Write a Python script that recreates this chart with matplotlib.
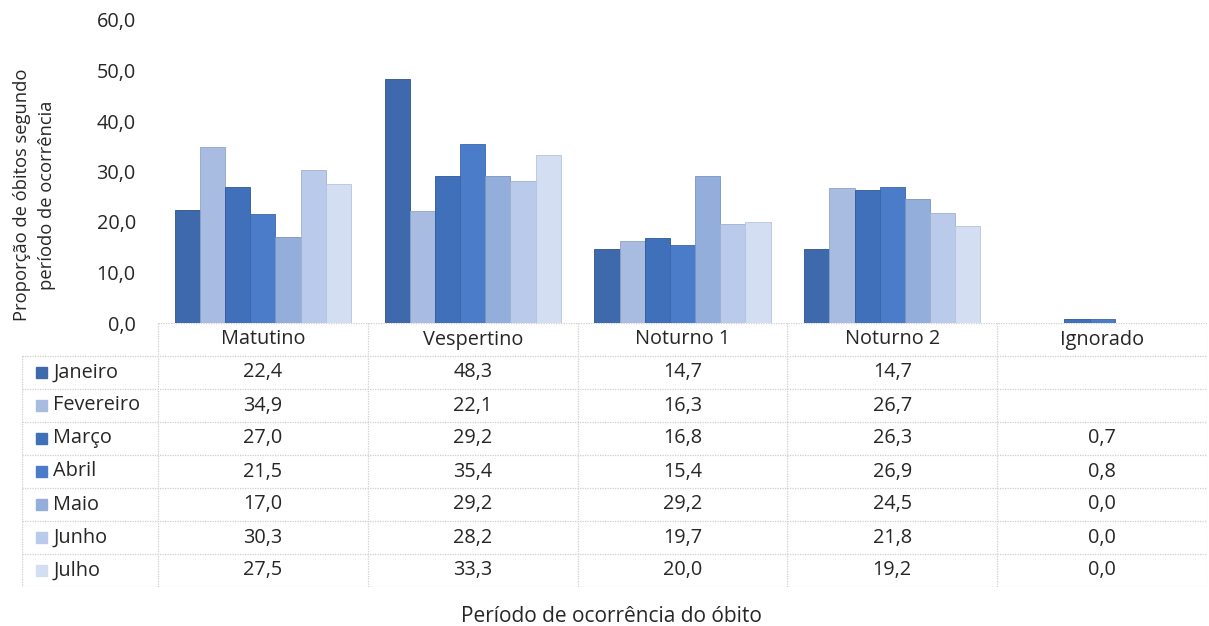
import numpy as np
import matplotlib
matplotlib.use("Agg")
import matplotlib.pyplot as plt

plt.rcParams['font.family'] = ['Open Sans', 'DejaVu Sans']

periods = ["Matutino", "Vespertino", "Noturno 1", "Noturno 2", "Ignorado"]
months = ["Janeiro", "Fevereiro", "Março", "Abril", "Maio", "Junho", "Julho"]

janeiro = [22.4, 48.3, 14.7, 14.7, np.nan]
fevereiro = [34.9, 22.1, 16.3, 26.7, np.nan]
marco = [27.0, 29.2, 16.8, 26.3, 0.7]
abril = [21.5, 35.4, 15.4, 26.9, 0.8]
maio = [17.0, 29.2, 29.2, 24.5, 0.0]
junho = [30.3, 28.2, 19.7, 21.8, 0.0]
julho = [27.5, 33.3, 20.0, 19.2, 0.0]
series = [janeiro, fevereiro, marco, abril, maio, junho, julho]

colors = ["#3f69ad", "#a8bce2", "#4170ba", "#4a7cc9", "#94aedb", "#bacaea", "#d3def2"]
edges = ["#2f528c", "#8ea3c9", "#2f5598", "#3a66aa", "#7a93c0", "#9fb0d0", "#b5c3dc"]

yticks = [0, 10, 20, 30, 40, 50, 60]
text_color = "#262626"
grid_color = "#cfcfcf"
fs = 14.3

W, H = 1209, 626
fig = plt.figure(figsize=(W / 100, H / 100), dpi=100)
fig.patch.set_facecolor("white")

# pixel layout helpers
x_left, x_right = 158, 1207
y_top, y_zero = 20, 323
table_left, table_bottom = 22, 587


def fx(px):
    return px / W


def fy(py):
    return 1 - py / H


# --- bar chart ---
ax = fig.add_axes([fx(x_left), fy(y_zero), fx(x_right - x_left), fy(y_top) - fy(y_zero)])
n = len(series)
group_w = 0.84
bw = group_w / n
x = np.arange(len(periods))
for i, (vals, c, ec) in enumerate(zip(series, colors, edges)):
    vals = np.array(vals, dtype=float)
    mask = ~np.isnan(vals)
    pos = x - group_w / 2 + bw * (i + 0.5)
    ax.bar(pos[mask], vals[mask], width=bw, color=c, edgecolor=ec, linewidth=0.6)

ax.set_xlim(-0.5, len(periods) - 0.5)
ax.set_ylim(0, 60)
ax.set_yticks(yticks)
ax.set_yticklabels([f"{v:.1f}".replace(".", ",") for v in yticks], fontsize=fs, color=text_color)
ax.set_xticks([])
ax.tick_params(axis="y", length=0, pad=16)
for s in ax.spines.values():
    s.set_visible(False)
ax.patch.set_alpha(0)

fig.text(fx(35), fy(195),
         "Proporção de óbitos segundo\nperíodo de ocorrência",
         rotation=90, ha="center", va="center", fontsize=13.2,
         color=text_color, linespacing=1.5)

# --- data table ---
n_rows = n + 1
col_w_px = (x_right - x_left) / len(periods)
tx0 = -0.5 - (x_left - table_left) / col_w_px
tax = fig.add_axes([fx(table_left), fy(table_bottom), fx(x_right - table_left), fy(y_zero) - fy(table_bottom)])
tax.set_xlim(tx0, len(periods) - 0.5)
tax.set_ylim(n_rows, 0)
tax.axis("off")

line_kw = dict(color=grid_color, linewidth=0.9, linestyle=(0, (1, 1)))
# horizontal rules
tax.plot([-0.5, len(periods) - 0.5], [0, 0], **line_kw)
for r in range(1, n_rows + 1):
    tax.plot([tx0, len(periods) - 0.5], [r, r], **line_kw)
# vertical rules
tax.plot([tx0, tx0], [1, n_rows], **line_kw)
for cidx in range(len(periods) + 1):
    xc = cidx - 0.5
    tax.plot([xc, xc], [0, n_rows], **line_kw)

for j, p in enumerate(periods):
    tax.text(j, 0.5, p, ha="center", va="center", fontsize=fs, color=text_color)

sq_w = 0.052
for i, (m, vals, c) in enumerate(zip(months, series, colors)):
    yr = i + 1.5
    tax.add_patch(plt.Rectangle((tx0 + 0.068, yr - 0.17), sq_w, 0.34, color=c))
    tax.text(tx0 + 0.068 + sq_w + 0.03, yr, m, ha="left", va="center", fontsize=fs, color=text_color)
    for j, v in enumerate(vals):
        if not np.isnan(v):
            tax.text(j, yr, f"{v:.1f}".replace(".", ","), ha="center", va="center",
                     fontsize=fs, color=text_color)

fig.text(fx(611), fy(616), "Período de ocorrência do óbito", ha="center", va="center",
         fontsize=15, color=text_color)

fig.savefig("out.png", dpi=100, facecolor="white")
